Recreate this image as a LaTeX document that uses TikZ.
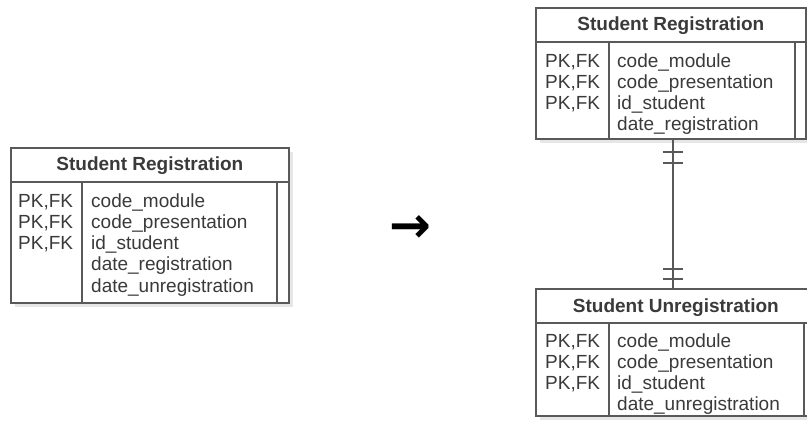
\documentclass[tikz,border=0pt]{standalone}
\usepackage{fontspec}
\setmainfont{Liberation Sans}
\newfontfamily\arrowfont{DejaVu Sans}
\usetikzlibrary{calc,shadows}
\definecolor{Frame}{HTML}{595959}
\definecolor{Ink}{HTML}{3A3A3A}
\definecolor{Shade}{HTML}{E6E6E6}

\begin{document}
\begin{tikzpicture}[x=1bp,y=-1bp,
  every node/.style={font=\fontsize{19bp}{21bp}\selectfont,text=Ink,inner sep=0pt},
  tbl/.style={draw=Frame,line width=1.7bp,fill=white,anchor=north west,
    drop shadow={shadow xshift=4bp,shadow yshift=-4bp,fill=Shade,opacity=1}},
  rule/.style={draw=Frame,line width=1.7bp},
  head/.style={font=\fontsize{19bp}{21bp}\selectfont\bfseries,anchor=base},
  key/.style={anchor=base west},
  field/.style={anchor=base west}
]
\useasboundingbox (0,0) rectangle (807,426);
\clip (0,0) rectangle (807,426);

% before: one table
\node[tbl,minimum width=278bp,minimum height=155bp] (old) at (10,147) {};
\draw[rule] ($(old.north west)+(0,35)$) -- ($(old.north east)+(0,35)$);
\draw[rule] ($(old.north west)+(72,35)$) -- ($(old.south west)+(72,0)$);
\draw[rule] ($(old.north east)+(-13,35)$) -- ($(old.south east)+(-13,0)$);
\node[head] (old-h) at ($(old.north)+(0,23)$) {Student Registration};
\foreach \i in {0,1,2}
  \node[key] (old-k\i) at ($(old.north west)+(8,60+21.3*\i)$) {PK,FK};
\foreach \f [count=\i from 0] in {code\_module,code\_presentation,id\_student,date\_registration,date\_unregistration}
  \node[field] (old-f\i) at ($(old.north west)+(81,60+21.3*\i)$) {\f};

\node[font=\arrowfont\bfseries\fontsize{50bp}{50bp}\selectfont,text=black] (to) at (410,229) {→};

% after: two tables
\node[tbl,minimum width=270bp,minimum height=131bp] (reg) at (535,7) {};
\draw[rule] ($(reg.north west)+(0,35)$) -- ($(reg.north east)+(0,35)$);
\draw[rule] ($(reg.north west)+(74,35)$) -- ($(reg.south west)+(74,0)$);
\draw[rule] ($(reg.north east)+(-12,35)$) -- ($(reg.south east)+(-12,0)$);
\node[head] (reg-h) at ($(reg.north)+(0,23)$) {Student Registration};
\foreach \i in {0,1,2}
  \node[key] (reg-k\i) at ($(reg.north west)+(10,60+21.3*\i)$) {PK,FK};
\foreach \f [count=\i from 0] in {code\_module,code\_presentation,id\_student,date\_registration}
  \node[field] (reg-f\i) at ($(reg.north west)+(82,60+21.3*\i)$) {\f};

\node[tbl,minimum width=280bp,minimum height=127bp] (unreg) at (535,288) {};
\draw[rule] ($(unreg.north west)+(0,35)$) -- ($(unreg.north east)+(0,35)$);
\draw[rule] ($(unreg.north west)+(74,35)$) -- ($(unreg.south west)+(74,0)$);
\draw[rule] ($(unreg.north east)+(-13,35)$) -- ($(unreg.south east)+(-13,0)$);
\node[head] (unreg-h) at ($(unreg.north)+(0,24)$) {Student Unregistration};
\foreach \i in {0,1,2}
  \node[key] (unreg-k\i) at ($(unreg.north west)+(10,59+21.3*\i)$) {PK,FK};
\foreach \f [count=\i from 0] in {code\_module,code\_presentation,id\_student,date\_unregistration}
  \node[field] (unreg-f\i) at ($(unreg.north west)+(82,59+21.3*\i)$) {\f};

% one-to-one link
\coordinate (top) at ([xshift=2bp]reg.south);
\coordinate (bot) at (top |- unreg.north);
\draw[rule] (top) -- (bot);
\foreach \d in {12,23}
  \draw[rule] ($(top)+(-10,\d)$) -- ++(20,0);
\foreach \d in {9,19}
  \draw[rule] ($(bot)+(-10,-\d)$) -- ++(20,0);
\end{tikzpicture}
\end{document}
